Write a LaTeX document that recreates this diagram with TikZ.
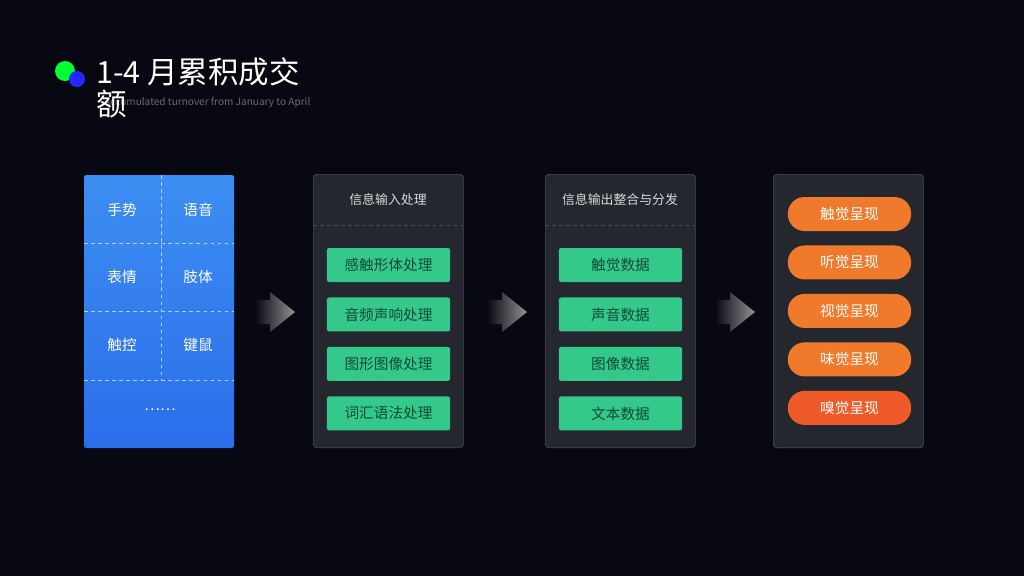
\documentclass[tikz,border=0pt]{standalone}
\usepackage{fontspec}
\setmainfont{Noto Sans CJK SC}
\usetikzlibrary{positioning,shadings}
\definecolor{bgdark}{HTML}{080812}
\definecolor{panelfill}{HTML}{25272E}
\definecolor{panelline}{HTML}{4A4D55}
\definecolor{greenbox}{HTML}{34C98A}
\definecolor{greentxt}{HTML}{0E4A33}
\definecolor{orangebox}{HTML}{F07A2C}
\definecolor{orangelast}{HTML}{EE5B28}
\definecolor{bluetop}{HTML}{3C8EF2}
\definecolor{bluebot}{HTML}{2C6EEA}
\tikzset{
  panel/.style={draw=panelline, line width=0.6pt, fill=panelfill, rounded corners=3pt,
    minimum width=4.5cm, minimum height=8.2cm, anchor=north west},
  green box/.style={fill=greenbox, rounded corners=2pt, minimum width=3.7cm,
    minimum height=1.02cm, text=greentxt, font=\fontsize{12.5}{14}\selectfont},
  orange pill/.style={fill=orangebox, rounded corners=0.5cm, minimum width=3.7cm,
    minimum height=1.02cm, text=white, font=\fontsize{12.5}{14}\selectfont},
  panel title/.style={text=white!85!black, font=\fontsize{11}{13}\selectfont},
  cell/.style={text=white, font=\fontsize{12.5}{14}\selectfont},
  sep/.style={dashed, line width=0.4pt},
}
\begin{document}
\begin{tikzpicture}[x=0.03cm,y=-0.03cm]
  \fill[bgdark] (0,0) rectangle (1024,576);
  \useasboundingbox (0,0) rectangle (1024,576);

  % heading
  \fill[green!80!cyan] (65,71) circle (10);
  \fill[blue!85!white] (77,79) circle (8);
  \node[anchor=west, text=white!40!bgdark, font=\fontsize{8.6}{10}\selectfont] (sub) at (100,103) {Accumulated turnover from January to April};
  \node[anchor=west, text=white, font=\fontsize{26}{30}\selectfont] (head) at (92,72) {1-4 月累积成交};
  \node[anchor=west, text=white, font=\fontsize{26}{30}\selectfont] (head2) at (92,104) {额};

  % input devices
  \shade[top color=bluetop, bottom color=bluebot, rounded corners=2pt] (84,175) rectangle (234,448);
  \draw[sep, draw=white!60!bluetop] (161,175) -- (161,380);
  \foreach \y in {243,311,380} \draw[sep, draw=white!60!bluetop] (84,\y) -- (234,\y);
  \node[cell] (gesture) at (122,210) {手势};
  \node[cell] (voice) at (198,210) {语音};
  \node[cell] (face) at (122,277) {表情};
  \node[cell] (body) at (198,277) {肢体};
  \node[cell] (touch) at (122,345) {触控};
  \node[cell] (keys) at (198,345) {键鼠};
  \node[cell] (more) at (160,410) {……};

  % arrows
  \foreach \x in {255,487,715}
    \shade[left color=bgdark, right color=gray!85!white]
      (\x,300) -- (\x+15,300) -- (\x+15,292) -- (\x+40,312) -- (\x+15,332) -- (\x+15,324) -- (\x,324) -- cycle;

  % processing panel
  \node[panel] (inpanel) at (313,174) {};
  \node[panel title] (intitle) at (388,200) {信息输入处理};
  \draw[sep, draw=panelline] (313,225) -- (463,225);
  \node[green box] (tactile) at (388.5,265) {感触形体处理};
  \node[green box, below=0.45cm of tactile] (audio) {音频声响处理};
  \node[green box, below=0.45cm of audio] (image) {图形图像处理};
  \node[green box, below=0.45cm of image] (words) {词汇语法处理};

  % output panel
  \node[panel] (outpanel) at (545,174) {};
  \node[panel title] (outtitle) at (620,200) {信息输出整合与分发};
  \draw[sep, draw=panelline] (545,225) -- (695,225);
  \node[green box] (tdata) at (620.5,265) {触觉数据};
  \node[green box, below=0.45cm of tdata] (sdata) {声音数据};
  \node[green box, below=0.45cm of sdata] (idata) {图像数据};
  \node[green box, below=0.45cm of idata] (xdata) {文本数据};

  % presentation panel
  \node[panel] (showpanel) at (773,174) {};
  \node[orange pill] (feel) at (849.5,214) {触觉呈现};
  \node[orange pill, below=0.42cm of feel] (hear) {听觉呈现};
  \node[orange pill, below=0.42cm of hear] (see) {视觉呈现};
  \node[orange pill, below=0.42cm of see] (taste) {味觉呈现};
  \node[orange pill, fill=orangelast, below=0.42cm of taste] (smell) {嗅觉呈现};
\end{tikzpicture}
\end{document}
